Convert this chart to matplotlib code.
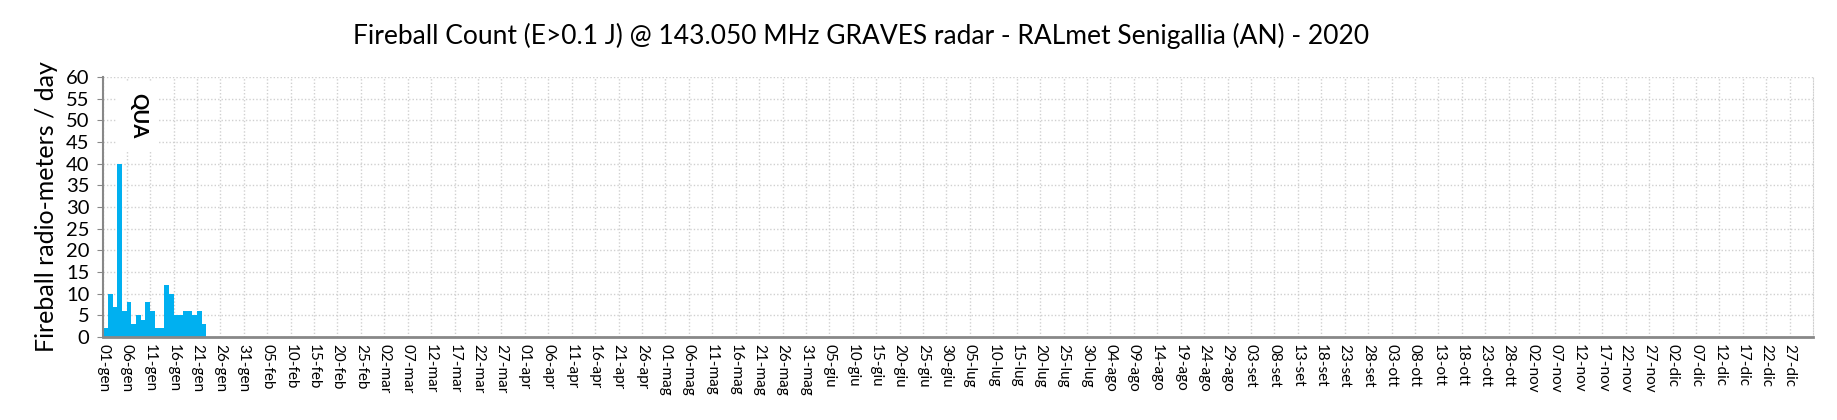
import datetime
import matplotlib.pyplot as plt

# daily fireball counts from 01-gen onward
counts = [2, 10, 7, 40, 6, 8, 3, 5, 4, 8, 6, 2, 2, 12, 10, 5, 5, 6, 6, 5, 6, 3]
days = list(range(len(counts)))

mesi = ['gen', 'feb', 'mar', 'apr', 'mag', 'giu',
        'lug', 'ago', 'set', 'ott', 'nov', 'dic']
# axis in the original runs over a 365-day calendar
tick_days = list(range(0, 365, 5))
start = datetime.date(2021, 1, 1)
tick_labels = []
for d in tick_days:
    dt = start + datetime.timedelta(days=d)
    tick_labels.append('%02d-%s' % (dt.day, mesi[dt.month - 1]))

shower_label = 'QUA'
shower_day = 7.4
shower_y = 51

plt.rcParams['font.family'] = ['Lato', 'DejaVu Sans']

fig = plt.figure(figsize=(18.37, 4.2), dpi=100)
ax = fig.add_axes([0.0562, 0.198, 0.9308, 0.619])

ax.bar(days, counts, width=1, align='edge', color='#00B0F0', zorder=2)

ax.set_xlim(0, 365)
ax.set_ylim(0, 60)
ax.set_yticks(range(0, 61, 5))
ax.set_xticks(tick_days)
ax.set_xticklabels(tick_labels, rotation=270, fontsize=11)
ax.tick_params(axis='y', labelsize=14.5, length=4, color='#888888', pad=6)
ax.tick_params(axis='x', length=0, pad=5)

ax.grid(True, color='#D0D0D0', linestyle=(0, (1, 1.5)), linewidth=1, zorder=0)
ax.set_axisbelow(True)

ax.spines['top'].set_visible(False)
ax.spines['right'].set_color('#D0D0D0')
ax.spines['right'].set_linestyle((0, (1, 1.5)))
ax.spines['left'].set_color('#888888')
ax.spines['left'].set_linewidth(1.5)
ax.spines['bottom'].set_color('#888888')
ax.spines['bottom'].set_linewidth(2)

ax.text(shower_day, shower_y, shower_label, rotation=270, fontsize=14.5,
        fontweight='bold', ha='center', va='center', zorder=3,
        bbox=dict(boxstyle='square,pad=0.55', facecolor='white', edgecolor='none'))

ax.set_ylabel('Fireball radio-meters / day', fontsize=18, labelpad=6)
fig.suptitle('Fireball Count (E>0.1 J) @ 143.050 MHz GRAVES radar - RALmet Senigallia (AN) - 2020',
             fontsize=19, x=0.469, y=0.945)

fig.savefig('out.png', dpi=100)
